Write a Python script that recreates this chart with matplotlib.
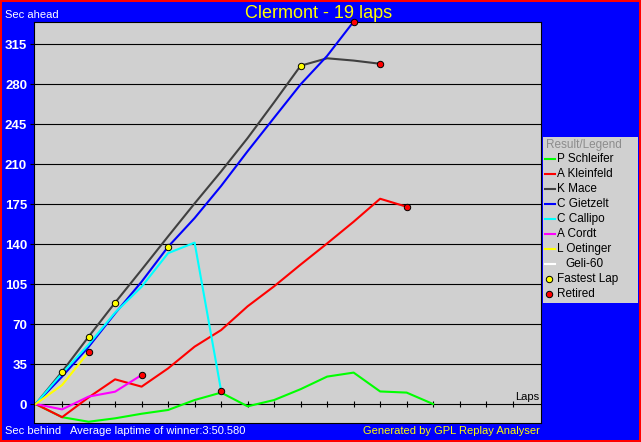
import matplotlib.pyplot as plt
from matplotlib.patches import Rectangle

plt.rcParams['font.family'] = ['Liberation Sans', 'DejaVu Sans']

# figure size in pixels (dpi 100)
W, H = 641, 442

title = 'Clermont - 19 laps'
avg_text = 'Average laptime of winner:3:50.580'
credit = 'Generated by GPL Replay Analyser'

drivers = ['P Schleifer', 'A Kleinfeld', 'K Mace', 'C Gietzelt',
           'C Callipo', 'A Cordt', 'L Oetinger', 'Geli-60']
colors = ['#00ff00', '#ff0000', '#404040', '#0000ff',
          '#00ffff', '#ff00ff', '#ffff00', '#ffffff']

# seconds ahead of the reference, one value per lap (lap 0 = start)
schleifer = [0, -11.5, -15.5, -12.5, -8.5, -5.2, 3.5, 10.0, -2.0, 3.5,
             13.0, 24.0, 27.5, 11.0, 10.0, 0]
kleinfeld = [0, -11.5, 5.8, 21.6, 15.2, 31.2, 50.2, 64.7, 85.5, 103.0,
             122.0, 140.5, 159.5, 179.6, 172.6]
mace = [0, 28.3, 58.9, 88.7, 117.5, 146.7, 175.5, 203.5, 232.7, 264.0,
        296.0, 302.5, 300.5, 297.7]
gietzelt = [0, 24.0, 50.0, 79.3, 107.0, 137.6, 162.7, 190.8, 221.2, 250.5,
            279.7, 304.6, 334.6]
callipo = [0, 26.8, 52.0, 80.0, 102.6, 132.0, 141.2, 11.6]
cordt = [0, -4.7, 6.5, 10.8, 25.4]
oetinger = [0, 16.6, 45.5]
geli = []

gaps = [schleifer, kleinfeld, mace, gietzelt, callipo, cordt, oetinger, geli]
retired = [False, True, True, True, True, True, True, False]

# laps on which a fastest lap was set
mace_fastest = [1, 2, 3, 10]
gietzelt_fastest = [5]

y_ticks = list(range(0, 316, 35))
lap_ticks = list(range(1, 19))

fig = plt.figure(figsize=(W / 100, H / 100), dpi=100, facecolor='#0000ff')
fig.patches.append(Rectangle((0, 0), 1, 1, transform=fig.transFigure,
                             fill=False, edgecolor='#ff0000', linewidth=2.9))

# plot area
ax = fig.add_axes([34 / W, 1 - 423 / H, 507 / W, 401 / H], facecolor='#d0d0d0')
ax.set_xlim(-0.06, 19.07)
ax.set_ylim(-16.6, 334.25)
for sp in ax.spines.values():
    sp.set_color('black')
    sp.set_linewidth(0.8)

ax.set_xticks([])
ax.set_yticks(y_ticks)
ax.tick_params(axis='y', direction='out', length=3, width=0.8, color='black',
               labelcolor='white', labelsize=9.5, pad=2)
for lab in ax.get_yticklabels():
    lab.set_fontweight('bold')
ax.grid(axis='y', color='black', linewidth=0.8)
ax.set_axisbelow(True)

# lap ticks on the zero line
ax.plot(lap_ticks, [0] * len(lap_ticks), '|', color='black', ms=3.8, mew=0.8)

for name, col, vals in zip(drivers, colors, gaps):
    if vals:
        ax.plot(range(len(vals)), vals, color=col, lw=1.5)

mk = dict(ms=4.6, mec='black', mew=0.7, clip_on=False, zorder=6, ls='none')
for vals, ret in zip(gaps, retired):
    if vals and ret:
        ax.plot([len(vals) - 1], [vals[-1]], 'o', mfc='#ff0000', **mk)
ax.plot(mace_fastest, [mace[i] for i in mace_fastest], 'o', mfc='#ffff00', **mk)
ax.plot(gietzelt_fastest, [gietzelt[i] for i in gietzelt_fastest], 'o',
        mfc='#ffff00', **mk)

# texts around the plot
fig.text(5 / W, 1 - 15.5 / H, 'Sec ahead', color='white', fontsize=8, va='center')
fig.text(319 / W, 1 - 13.5 / H, title, color='#ffff00', fontsize=13,
         ha='center', va='center')
fig.text(5 / W, 1 - 431 / H, 'Sec behind', color='white', fontsize=8, va='center')
fig.text(70 / W, 1 - 431 / H, avg_text, color='white', fontsize=8, va='center')
fig.text(540 / W, 1 - 431 / H, credit, color='#ffff00', fontsize=8,
         ha='right', va='center')
fig.text(539 / W, 1 - 397 / H, 'Laps', color='black', fontsize=8,
         ha='right', va='center')

# legend panel, laid out in pixels from its top-left corner
lax = fig.add_axes([543 / W, 1 - 303 / H, 95 / W, 166 / H], facecolor='#d0d0d0')
lax.set_xlim(0, 95)
lax.set_ylim(166, 0)
lax.set_xticks([])
lax.set_yticks([])
for sp in lax.spines.values():
    sp.set_visible(False)

lax.text(3, 7.7, 'Result/Legend', color='#8c8c8c', fontsize=8.5, va='center')
for i, (name, col) in enumerate(zip(drivers, colors)):
    y = 22.3 + 15 * i
    lax.plot([2.3, 12], [y, y], color=col, lw=1.5)
    tx = 22.7 if name == 'Geli-60' else 13.7
    lax.text(tx, y, name, color='black', fontsize=8.5, va='center')
n = len(drivers)
for j, (lbl, fc) in enumerate([('Fastest Lap', '#ffff00'), ('Retired', '#ff0000')]):
    y = 22.3 + 15 * (n + j)
    lax.plot([6], [y], 'o', mfc=fc, ms=4.6, mec='black', mew=0.7)
    lax.text(13.7, y, lbl, color='black', fontsize=8.5, va='center')

fig.savefig('out.png', dpi=100, facecolor=fig.get_facecolor())
